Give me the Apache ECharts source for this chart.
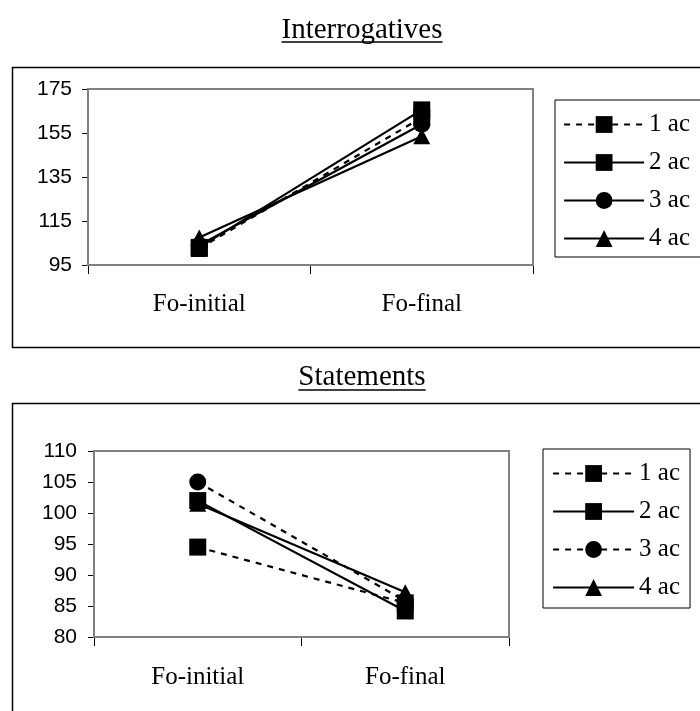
<!DOCTYPE html>
<html>
<head>
<meta charset="utf-8">
<script src="https://cdn.jsdelivr.net/npm/echarts@6/dist/echarts.min.js"></script>
<style>
html,body{margin:0;padding:0;background:#fff;}
#chart{width:700px;height:711px;}
</style>
</head>
<body>
<div id="chart"></div>
<script>
// ---- data ----
var categories = ['Fo-initial', 'Fo-final'];
var seriesNames = ['1 ac', '2 ac', '3 ac', '4 ac'];
var interrogTitle = 'Interrogatives';
var statementTitle = 'Statements';
var interrog1ac = [102.5, 162];
var interrog2ac = [103, 165.5];
var interrog3ac = [104, 159];
var interrog4ac = [107.5, 153.5];
var statement1ac = [94.5, 85.5];
var statement2ac = [102, 84.2];
var statement3ac = [105, 85.8];
var statement4ac = [101.5, 87.2];
var interrogTicks = {min: 95, max: 175, interval: 20};
var statementTicks = {min: 80, max: 110, interval: 5};

// ---- styles ----
var serif = '"Liberation Serif","Times New Roman",serif';
var sans = '"Liberation Sans",Arial,sans-serif';
var symbols = ['rect', 'rect', 'circle', 'triangle'];
var interrogDash = ['dashed', 'solid', 'solid', 'solid'];
var statementDash = ['dashed', 'solid', 'dashed', 'solid'];
var dashPattern = [6, 6];

function measure(text, font) {
  var c = document.createElement('canvas').getContext('2d');
  c.font = font;
  return c.measureText(text).width;
}

var chart = echarts.init(document.getElementById('chart'));

function lineType(d) { return d === 'dashed' ? dashPattern : 'solid'; }

function makeSeries(dataArr, dashes, idx) {
  return dataArr.map(function (d, i) {
    return {
      name: seriesNames[i],
      type: 'line',
      xAxisIndex: idx,
      yAxisIndex: idx,
      data: d,
      symbol: symbols[i],
      symbolSize: symbols[i] === 'triangle' ? [17, 16] : 17,
      itemStyle: {color: '#000'},
      lineStyle: {color: '#000', width: 2.2, type: lineType(dashes[i])},
      animation: false,
      z: 3 + i
    };
  });
}

function legendData(dashes) {
  return seriesNames.map(function (n, i) {
    return {name: n, lineStyle: {color: '#000', width: 2.2, type: lineType(dashes[i])}};
  });
}

function yAxis(idx, t, margin) {
  return {
    type: 'value', gridIndex: idx, min: t.min, max: t.max, interval: t.interval,
    axisLine: {show: true, lineStyle: {color: '#000', width: 2}},
    axisTick: {show: true, length: 6, lineStyle: {color: '#000', width: 1}},
    axisLabel: {color: '#000', fontFamily: sans, fontSize: 21, margin: margin},
    splitLine: {show: true, showMaxLine: false, showMinLine: false, lineStyle: {color: '#000', width: 1}}
  };
}

function xAxis(idx, margin) {
  return {
    type: 'category', gridIndex: idx, data: categories, boundaryGap: true,
    axisLine: {show: true, lineStyle: {color: '#000', width: 2}},
    axisTick: {show: true, length: 9, alignWithLabel: false, lineStyle: {color: '#000', width: 1}},
    axisLabel: {color: '#000', fontFamily: serif, fontSize: 25, margin: margin},
    splitLine: {show: false}
  };
}

var titleFont = 29;
var w1 = measure(interrogTitle, titleFont + 'px ' + serif);
var w2 = measure(statementTitle, titleFont + 'px ' + serif);
var cx = 362;

var legendText = {color: '#000', fontFamily: serif, fontSize: 25, lineHeight: 24};

var option = {
  animation: false,
  backgroundColor: '#fff',
  grid: [
    {left: 88, top: 89, width: 445, height: 176, show: true, borderColor: '#808080', borderWidth: 2, backgroundColor: '#fff', z: 1},
    {left: 94, top: 451, width: 415, height: 186, show: true, borderColor: '#808080', borderWidth: 2, backgroundColor: '#fff', z: 1}
  ],
  xAxis: [xAxis(0, 27), xAxis(1, 28)],
  yAxis: [yAxis(0, interrogTicks, 16), yAxis(1, statementTicks, 17)],
  legend: [
    {
      orient: 'vertical', left: 555, top: 100,
      data: legendData(interrogDash), itemWidth: 80, itemHeight: 21, itemGap: 13,
      padding: [12, 80, 6, 8],
      borderColor: '#000', borderWidth: 1, backgroundColor: '#fff',
      textStyle: legendText,
      selectedMode: false
    },
    {
      orient: 'vertical', left: 543, top: 449,
      data: legendData(statementDash), itemWidth: 81, itemHeight: 21, itemGap: 13,
      padding: [12, 10, 8, 9],
      borderColor: '#000', borderWidth: 1, backgroundColor: '#fff',
      textStyle: legendText,
      selectedMode: false
    }
  ],
  graphic: [
    {type: 'rect', z: -10, shape: {x: 12.5, y: 67.5, width: 720, height: 280}, style: {fill: '#fff', stroke: '#000', lineWidth: 1.5}},
    {type: 'rect', z: -10, shape: {x: 12.5, y: 403.5, width: 720, height: 400}, style: {fill: '#fff', stroke: '#000', lineWidth: 1.5}},
    {type: 'text', x: cx, y: 30, style: {text: interrogTitle, fill: '#000', font: titleFont + 'px ' + serif, textAlign: 'center', textVerticalAlign: 'middle'}},
    {type: 'line', shape: {x1: cx - w1 / 2, y1: 42, x2: cx + w1 / 2, y2: 42}, style: {stroke: '#000', lineWidth: 1.5}},
    {type: 'text', x: cx, y: 377, style: {text: statementTitle, fill: '#000', font: titleFont + 'px ' + serif, textAlign: 'center', textVerticalAlign: 'middle'}},
    {type: 'line', shape: {x1: cx - w2 / 2, y1: 390, x2: cx + w2 / 2, y2: 390}, style: {stroke: '#000', lineWidth: 1.5}}
  ],
  series: makeSeries([interrog1ac, interrog2ac, interrog3ac, interrog4ac], interrogDash, 0)
    .concat(makeSeries([statement1ac, statement2ac, statement3ac, statement4ac], statementDash, 1))
};
chart.setOption(option);
</script>
</body>
</html>
